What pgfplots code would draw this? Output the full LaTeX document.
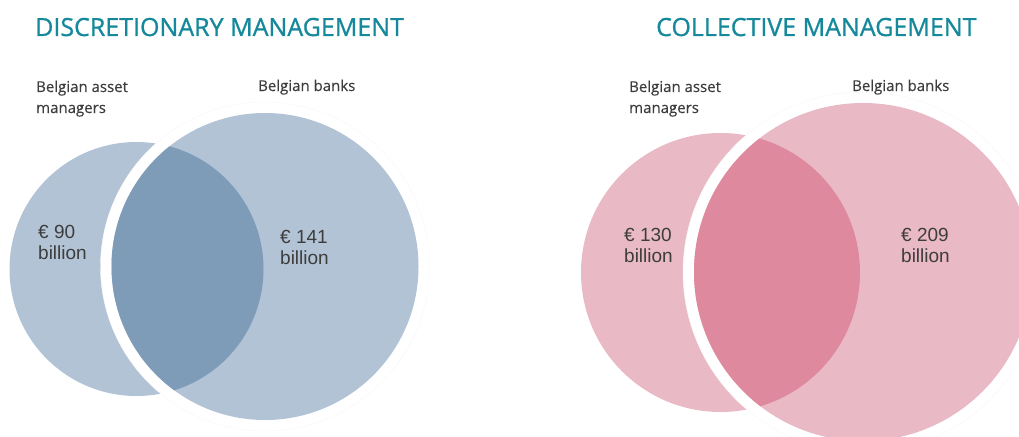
\documentclass[border=0pt]{standalone}
\usepackage{pgfplots}
\pgfplotsset{compat=1.18}
\usepackage{fontspec}
\setmainfont{Open Sans}
\newfontfamily\titlefont[FakeBold=0.9]{Open Sans}
\newfontfamily\labfont[FakeBold=0.3]{Open Sans}
\newfontfamily\valfont{Liberation Sans}
\definecolor{titleteal}{HTML}{15899B}
\definecolor{labgray}{HTML}{3D3D3D}
\definecolor{bluelight}{HTML}{B2C3D6}
\definecolor{bluedark}{HTML}{7E9BB8}
\definecolor{pinklight}{HTML}{E9B9C5}
\definecolor{pinkdark}{HTML}{DF899F}
\begin{document}
\begin{tikzpicture}
\begin{axis}[
  width=1019pt, height=436pt, scale only axis,
  xmin=0, xmax=1019, ymin=0, ymax=436, y dir=reverse,
  hide axis, clip=true]
% ---- Discretionary management: asset managers (90), banks (141)
\fill[bluelight] (axis cs:136.5,269) circle[radius=127];
\fill[white, draw=black!3, line width=0.4pt] (axis cs:265,266.5) circle[radius=164.5];
\fill[bluelight] (axis cs:265,266.5) circle[radius=153.5];
\begin{scope}
\clip (axis cs:136.5,269) circle[radius=127];
\fill[bluedark] (axis cs:265,266.5) circle[radius=153.5];
\end{scope}
% ---- Collective management: asset managers (130), banks (209)
\fill[pinklight] (axis cs:720.5,272.5) circle[radius=139.5];
\fill[white, draw=black!3, line width=0.4pt] (axis cs:863,272) circle[radius=180];
\fill[pinklight] (axis cs:863,272) circle[radius=169];
\begin{scope}
\clip (axis cs:720.5,272.5) circle[radius=139.5];
\fill[pinkdark] (axis cs:863,272) circle[radius=169];
\end{scope}
% ---- titles
\node[anchor=base west, inner sep=0, text=titleteal, font=\titlefont\fontsize{25}{30}\selectfont] at (axis cs:35,36) {DISCRETIONARY MANAGEMENT};
\node[anchor=base west, inner sep=0, text=titleteal, font=\titlefont\fontsize{25}{30}\selectfont] at (axis cs:656,36) {COLLECTIVE MANAGEMENT};
% ---- set labels
\node[anchor=base west, inner sep=0, text=labgray, font=\labfont\fontsize{15}{18}\selectfont] at (axis cs:36,92) {Belgian asset};
\node[anchor=base west, inner sep=0, text=labgray, font=\labfont\fontsize{15}{18}\selectfont] at (axis cs:36,113) {managers};
\node[anchor=base west, inner sep=0, text=labgray, font=\labfont\fontsize{15}{18}\selectfont] at (axis cs:258,91) {Belgian banks};
\node[anchor=base west, inner sep=0, text=labgray, font=\labfont\fontsize{15}{18}\selectfont] at (axis cs:629,92) {Belgian asset};
\node[anchor=base west, inner sep=0, text=labgray, font=\labfont\fontsize{15}{18}\selectfont] at (axis cs:629,113) {managers};
\node[anchor=base west, inner sep=0, text=labgray, font=\labfont\fontsize{15}{18}\selectfont] at (axis cs:852,91) {Belgian banks};
% ---- values
\node[anchor=base west, inner sep=0, text=labgray, font=\valfont\fontsize{19}{22}\selectfont] at (axis cs:38,238) {€ 90};
\node[anchor=base west, inner sep=0, text=labgray, font=\valfont\fontsize{19}{22}\selectfont] at (axis cs:38,259.5) {billion};
\node[anchor=base west, inner sep=0, text=labgray, font=\valfont\fontsize{19}{22}\selectfont] at (axis cs:280,243) {€ 141};
\node[anchor=base west, inner sep=0, text=labgray, font=\valfont\fontsize{19}{22}\selectfont] at (axis cs:280,264.5) {billion};
\node[anchor=base west, inner sep=0, text=labgray, font=\valfont\fontsize{19}{22}\selectfont] at (axis cs:624,241) {€ 130};
\node[anchor=base west, inner sep=0, text=labgray, font=\valfont\fontsize{19}{22}\selectfont] at (axis cs:624,262.5) {billion};
\node[anchor=base west, inner sep=0, text=labgray, font=\valfont\fontsize{19}{22}\selectfont] at (axis cs:901,241) {€ 209};
\node[anchor=base west, inner sep=0, text=labgray, font=\valfont\fontsize{19}{22}\selectfont] at (axis cs:901,262.5) {billion};
\end{axis}
\pgfresetboundingbox
\path[use as bounding box] (current axis.south west) rectangle (current axis.north east);
\end{tikzpicture}
\end{document}
